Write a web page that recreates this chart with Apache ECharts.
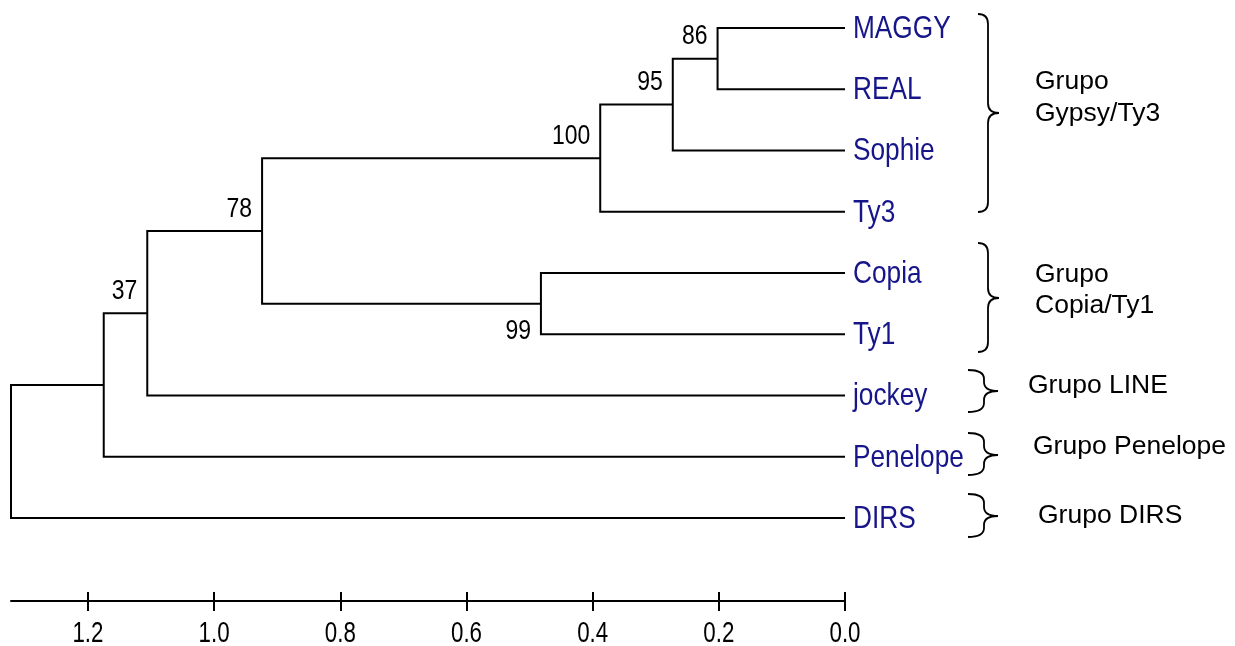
<!DOCTYPE html>
<html>
<head>
<meta charset="utf-8">
<script src="https://cdn.jsdelivr.net/npm/echarts@6/dist/echarts.min.js"></script>
<style>
html,body{margin:0;padding:0;background:#fff;}
#chart{width:1235px;height:646px;}
</style>
</head>
<body>
<div id="chart"></div>
<script>
// ---- data ----
const leaves = ['MAGGY', 'REAL', 'Sophie', 'Ty3', 'Copia', 'Ty1', 'jockey', 'Penelope', 'DIRS'];
const nodeNames = ['n1', 'n2', 'n3', 'n4', 'n5', 'n6', 'n7', 'n8'];
const nodeChildA = ['MAGGY', 'n1', 'n2', 'Copia', 'n3', 'n5', 'n6', 'n7'];
const nodeChildB = ['REAL', 'Sophie', 'Ty3', 'Ty1', 'n4', 'jockey', 'Penelope', 'DIRS'];
const nodeHeight = [0.202, 0.273, 0.388, 0.482, 0.924, 1.106, 1.175, 1.322];
const nodeSupport = [86, 95, 100, 99, 78, 37, null, null];
const tickValues = [0, 0.2, 0.4, 0.6, 0.8, 1.0, 1.2];
const tickLabels = ['0.0', '0.2', '0.4', '0.6', '0.8', '1.0', '1.2'];
const groupNames = ['Grupo\nGypsy/Ty3', 'Grupo\nCopia/Ty1', 'Grupo LINE', 'Grupo Penelope', 'Grupo DIRS'];

const X_MAX = 1.322, Y_MAX = 9.355;

// ---- build tree geometry (in data units) ----
const pos = {};
leaves.forEach((n, i) => { pos[n] = { h: 0, y: i }; });
const upperChild = {};
nodeNames.forEach((n, k) => {
  const a = pos[nodeChildA[k]], b = pos[nodeChildB[k]];
  pos[n] = { h: nodeHeight[k], y: (a.y + b.y) / 2 };
  upperChild[nodeChildA[k]] = true;
  upperChild[nodeChildB[k]] = false;
});
// each branch item: [childA height, childA y, node height, childB y, childB height]
const branchData = nodeNames.map((n, k) => {
  const a = pos[nodeChildA[k]], b = pos[nodeChildB[k]], p = pos[n];
  return [a.h, a.y, p.h, b.y, b.h];
});
const leafData = leaves.map((n, i) => [0, i]);
const supportData = [];
const supportText = [];
const supportAbove = [];
nodeNames.forEach((n, k) => {
  if (nodeSupport[k] == null) return;
  supportData.push([pos[n].h, pos[n].y]);
  supportText.push(String(nodeSupport[k]));
  supportAbove.push(upperChild[n] !== false);
});
const tickLabelData = tickValues.map(v => [v, Y_MAX]);

const SANS = '"Liberation Sans", Arial, sans-serif';
const NARROW_SCALE = 0.82;

// brace geometry (pixel layout): [x0 hook, x1 spine, x2 tip, top, mid, bottom, r]
const braceGeom = [
  [978, 988, 999, 14, 113, 212, 10],
  [978, 988, 999, 243, 298, 352, 10],
  [968, 984, 998, 370, 391, 412, 9],
  [968, 984, 998, 433, 455, 475, 9],
  [968, 984, 998, 494, 516, 537, 9]
];
function brace(g) {
  const [x0, x1, x2, top, mid, bottom, r] = g;
  return 'M' + x0 + ' ' + top + ' Q' + x1 + ' ' + top + ' ' + x1 + ' ' + (top + r) +
    ' L' + x1 + ' ' + (mid - r) + ' Q' + x1 + ' ' + mid + ' ' + x2 + ' ' + mid +
    ' Q' + x1 + ' ' + mid + ' ' + x1 + ' ' + (mid + r) +
    ' L' + x1 + ' ' + (bottom - r) + ' Q' + x1 + ' ' + bottom + ' ' + x0 + ' ' + bottom;
}

const chart = echarts.init(document.getElementById('chart'), null, { renderer: 'canvas' });
const option = {
  animation: false,
  backgroundColor: '#fff',
  grid: { left: 11, right: 390, top: 28, bottom: 45, containLabel: false },
  xAxis: [{
    type: 'value', inverse: true, min: 0, max: X_MAX, position: 'bottom',
    axisLine: { show: true, onZero: false, lineStyle: { color: '#000', width: 2 } },
    axisTick: { show: true, customValues: tickValues, length: 10, lineStyle: { color: '#000', width: 2 } },
    axisLabel: { show: false },
    splitLine: { show: false }
  }, {
    type: 'value', inverse: true, min: 0, max: X_MAX, position: 'bottom', offset: 0,
    axisLine: { show: false, onZero: false },
    axisTick: { show: true, inside: true, customValues: tickValues, length: 9, lineStyle: { color: '#000', width: 2 } },
    axisLabel: { show: false },
    splitLine: { show: false }
  }],
  yAxis: { type: 'value', min: 0, max: Y_MAX, inverse: true, show: false },
  series: [{
    // tree branches
    type: 'custom', silent: true, clip: false,
    data: branchData,
    renderItem: function (params, api) {
      const p1 = api.coord([api.value(0), api.value(1)]);
      const p2 = api.coord([api.value(2), api.value(1)]);
      const p3 = api.coord([api.value(2), api.value(3)]);
      const p4 = api.coord([api.value(4), api.value(3)]);
      return {
        type: 'polyline',
        shape: { points: [p1, p2, p3, p4] },
        style: { stroke: '#000', lineWidth: 2, fill: null }
      };
    }
  }, {
    // leaf names
    type: 'custom', silent: true, clip: false,
    data: leafData,
    renderItem: function (params, api) {
      const p = api.coord([api.value(0), api.value(1)]);
      return {
        type: 'text', x: p[0] + 8, y: p[1] + 1, scaleX: NARROW_SCALE,
        style: { text: leaves[params.dataIndex], fontSize: 32, fontFamily: SANS, fill: '#16168a', align: 'left', verticalAlign: 'middle' }
      };
    }
  }, {
    // bootstrap support values
    type: 'custom', silent: true, clip: false,
    data: supportData,
    renderItem: function (params, api) {
      const p = api.coord([api.value(0), api.value(1)]);
      const i = params.dataIndex;
      return {
        type: 'text', x: p[0] - 10, y: p[1] + (supportAbove[i] ? -22 : 28), scaleX: NARROW_SCALE,
        style: { text: supportText[i], fontSize: 28, fontFamily: SANS, fill: '#000', align: 'right', verticalAlign: 'middle' }
      };
    }
  }, {
    // axis tick labels
    type: 'custom', silent: true, clip: false,
    data: tickLabelData,
    renderItem: function (params, api) {
      const p = api.coord([api.value(0), api.value(1)]);
      return {
        type: 'text', x: p[0], y: p[1] + 33, scaleX: 0.77,
        style: { text: tickLabels[params.dataIndex], fontSize: 29, fontFamily: SANS, fill: '#000', align: 'center', verticalAlign: 'middle' }
      };
    }
  }, {
    // group braces
    type: 'custom', silent: true, coordinateSystem: 'none',
    data: braceGeom.map((g, i) => [i]),
    renderItem: function (params) {
      return {
        type: 'path',
        shape: { pathData: brace(braceGeom[params.dataIndex]) },
        style: { stroke: '#000', lineWidth: 1.8, fill: null }
      };
    }
  }],
  graphic: [
    { type: 'text', x: 1035, y: 98, scaleX: 1.06, style: { text: groupNames[0], fontSize: 25, fontFamily: SANS, fill: '#000', verticalAlign: 'middle', lineHeight: 32 } },
    { type: 'text', x: 1035, y: 291, scaleX: 1.06, style: { text: groupNames[1], fontSize: 25, fontFamily: SANS, fill: '#000', verticalAlign: 'middle', lineHeight: 31 } },
    { type: 'text', x: 1028, y: 386, scaleX: 1.06, style: { text: groupNames[2], fontSize: 25, fontFamily: SANS, fill: '#000', verticalAlign: 'middle' } },
    { type: 'text', x: 1033, y: 447, scaleX: 1.06, style: { text: groupNames[3], fontSize: 25, fontFamily: SANS, fill: '#000', verticalAlign: 'middle' } },
    { type: 'text', x: 1038, y: 516, scaleX: 1.06, style: { text: groupNames[4], fontSize: 25, fontFamily: SANS, fill: '#000', verticalAlign: 'middle' } }
  ]
};
chart.setOption(option);
</script>
</body>
</html>
